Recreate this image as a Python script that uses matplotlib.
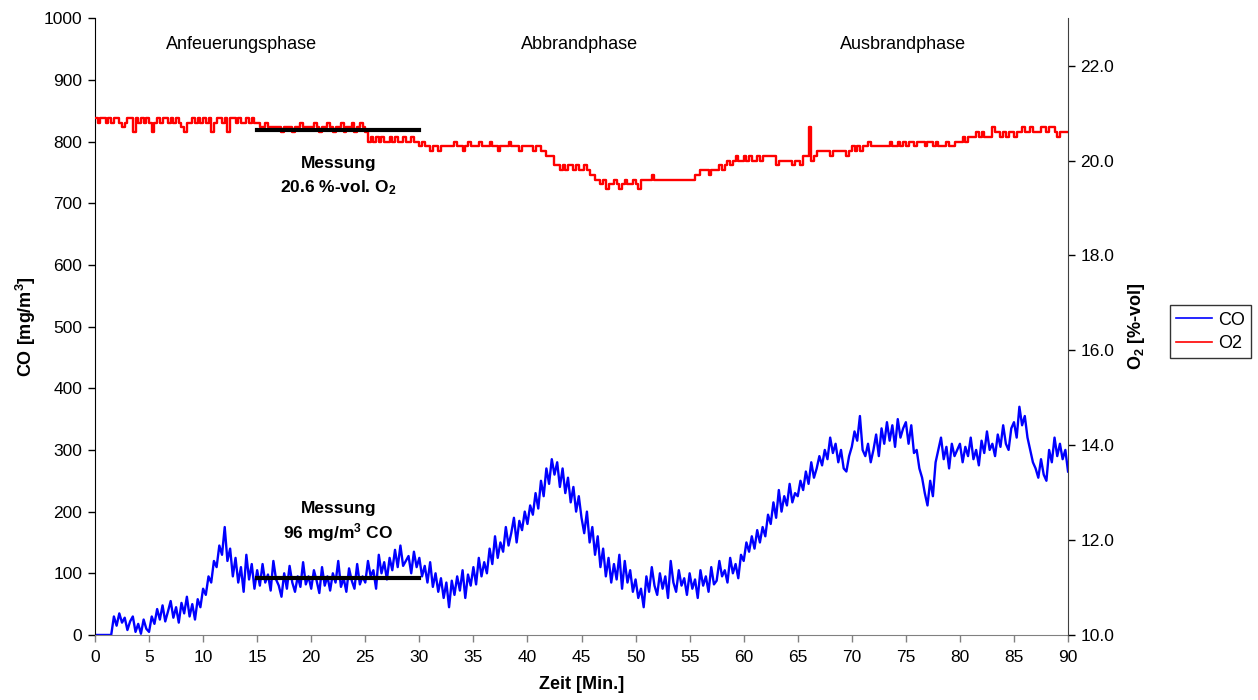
import numpy as np
import matplotlib
matplotlib.use("Agg")
from matplotlib import pyplot as plt

plt.rcParams['font.family'] = ['Liberation Sans', 'DejaVu Sans']
plt.rcParams['mathtext.fontset'] = 'custom'
plt.rcParams['mathtext.rm'] = 'Liberation Sans'
plt.rcParams['mathtext.bf'] = 'Liberation Sans:bold'

# time axis, one reading every 0.25 min
zeit = [i * 0.25 for i in range(361)]

# CO [mg/m3], rows of 5 minutes
co = (
    [0, 0, 0, 0, 0, 0, 0, 30, 15, 35, 20, 28, 8, 22, 30, 5, 18, 2, 25, 10] +
    [5, 30, 18, 42, 25, 48, 22, 38, 55, 28, 45, 20, 52, 35, 62, 30, 50, 25, 58, 45] +
    [75, 65, 95, 85, 120, 110, 145, 130, 175, 120, 140, 95, 125, 85, 110, 70, 130, 90, 115, 75] +
    [105, 80, 115, 85, 98, 72, 120, 90, 80, 62, 100, 75, 112, 85, 70, 95, 78, 118, 82, 95] +
    [75, 105, 88, 68, 110, 80, 95, 72, 100, 85, 120, 78, 92, 70, 108, 88, 75, 115, 82, 95] +
    [85, 120, 95, 105, 75, 130, 100, 118, 90, 125, 105, 138, 110, 145, 112, 120, 128, 100, 135, 110] +
    [125, 95, 112, 85, 118, 78, 100, 70, 92, 60, 85, 45, 88, 65, 95, 72, 105, 60, 98, 80] +
    [110, 82, 125, 95, 118, 100, 140, 115, 160, 125, 150, 135, 175, 145, 165, 190, 150, 185, 170, 200] +
    [180, 210, 195, 230, 205, 250, 225, 270, 245, 285, 260, 280, 240, 270, 230, 255, 215, 240, 200, 225] +
    [190, 165, 200, 150, 175, 130, 160, 110, 140, 95, 125, 85, 115, 90, 130, 75, 120, 85, 105, 70] +
    [90, 60, 75, 45, 95, 70, 110, 80, 65, 100, 75, 95, 60, 120, 85, 70, 105, 80, 92, 65] +
    [100, 75, 90, 60, 105, 80, 95, 70, 110, 82, 88, 120, 95, 105, 85, 125, 100, 115, 92, 130] +
    [120, 150, 135, 160, 140, 170, 150, 175, 160, 195, 180, 215, 190, 235, 200, 225, 210, 245, 215, 230] +
    [225, 250, 235, 265, 245, 280, 255, 270, 290, 275, 300, 285, 320, 295, 310, 280, 300, 270, 265, 290] +
    [305, 330, 315, 355, 300, 290, 310, 280, 300, 325, 290, 335, 310, 345, 315, 340, 305, 350, 320, 335] +
    [345, 310, 340, 295, 300, 270, 255, 230, 210, 250, 225, 280, 300, 320, 285, 305, 270, 310, 290, 300] +
    [310, 280, 305, 290, 320, 285, 300, 275, 315, 295, 330, 300, 310, 290, 325, 305, 340, 310, 300, 335] +
    [345, 320, 370, 340, 355, 320, 300, 280, 270, 255, 285, 260, 250, 300, 280, 320, 290, 310, 285, 300] +
    [265]
)

# O2 [%-vol]
o2 = (
    [20.9, 20.8, 20.9, 20.9, 20.8, 20.9, 20.8, 20.9, 20.9, 20.8, 20.7, 20.8, 20.9, 20.9, 20.6, 20.9, 20.8, 20.9, 20.8, 20.9] +
    [20.8, 20.6, 20.8, 20.9, 20.8, 20.9, 20.9, 20.8, 20.9, 20.8, 20.9, 20.8, 20.7, 20.6, 20.8, 20.8, 20.9, 20.8, 20.9, 20.8] +
    [20.9, 20.8, 20.9, 20.6, 20.8, 20.9, 20.9, 20.8, 20.9, 20.6, 20.9, 20.9, 20.8, 20.9, 20.8, 20.8, 20.9, 20.8, 20.9, 20.8] +
    [20.8, 20.7, 20.7, 20.8, 20.7, 20.7, 20.7, 20.7, 20.7, 20.6, 20.7, 20.7, 20.7, 20.6, 20.7, 20.7, 20.8, 20.7, 20.7, 20.7] +
    [20.7, 20.8, 20.7, 20.6, 20.7, 20.7, 20.8, 20.7, 20.6, 20.7, 20.7, 20.8, 20.6, 20.7, 20.7, 20.8, 20.6, 20.7, 20.8, 20.7] +
    [20.6, 20.4, 20.5, 20.4, 20.5, 20.4, 20.5, 20.4, 20.4, 20.5, 20.4, 20.5, 20.4, 20.4, 20.5, 20.4, 20.4, 20.5, 20.4, 20.4] +
    [20.3, 20.4, 20.3, 20.3, 20.2, 20.3, 20.3, 20.2, 20.3, 20.3, 20.3, 20.3, 20.3, 20.4, 20.3, 20.3, 20.2, 20.3, 20.4, 20.3] +
    [20.3, 20.3, 20.4, 20.3, 20.3, 20.3, 20.4, 20.3, 20.3, 20.2, 20.3, 20.3, 20.3, 20.4, 20.3, 20.3, 20.3, 20.2, 20.3, 20.3] +
    [20.3, 20.3, 20.2, 20.3, 20.3, 20.2, 20.2, 20.1, 20.1, 20.1, 19.9, 19.9, 19.8, 19.9, 19.8, 19.9, 19.9, 19.8, 19.9, 19.8] +
    [19.8, 19.9, 19.8, 19.7, 19.7, 19.6, 19.6, 19.5, 19.6, 19.4, 19.5, 19.5, 19.6, 19.5, 19.4, 19.5, 19.6, 19.5, 19.5, 19.6] +
    [19.5, 19.4, 19.6, 19.6, 19.6, 19.6, 19.7, 19.6, 19.6, 19.6, 19.6, 19.6, 19.6, 19.6, 19.6, 19.6, 19.6, 19.6, 19.6, 19.6] +
    [19.6, 19.6, 19.7, 19.7, 19.8, 19.8, 19.8, 19.7, 19.8, 19.8, 19.8, 19.9, 19.8, 19.9, 20.0, 19.9, 20.0, 20.1, 20.0, 20.0] +
    [20.1, 20.0, 20.1, 20.0, 20.0, 20.1, 20.0, 20.1, 20.1, 20.1, 20.1, 20.1, 19.9, 20.0, 20.0, 20.0, 20.0, 20.0, 19.9, 20.0] +
    [20.0, 19.9, 20.1, 20.1, 20.7, 20.0, 20.1, 20.2, 20.2, 20.2, 20.2, 20.2, 20.1, 20.2, 20.2, 20.2, 20.2, 20.2, 20.1, 20.2] +
    [20.3, 20.2, 20.3, 20.2, 20.3, 20.3, 20.4, 20.3, 20.3, 20.3, 20.3, 20.3, 20.3, 20.3, 20.4, 20.3, 20.3, 20.4, 20.3, 20.4] +
    [20.3, 20.4, 20.4, 20.3, 20.4, 20.4, 20.4, 20.3, 20.4, 20.4, 20.3, 20.4, 20.3, 20.3, 20.3, 20.4, 20.3, 20.3, 20.4, 20.4] +
    [20.4, 20.5, 20.4, 20.5, 20.5, 20.5, 20.6, 20.5, 20.6, 20.5, 20.5, 20.5, 20.7, 20.6, 20.6, 20.5, 20.6, 20.5, 20.6, 20.6] +
    [20.5, 20.6, 20.6, 20.7, 20.6, 20.6, 20.7, 20.6, 20.6, 20.6, 20.7, 20.7, 20.6, 20.7, 20.7, 20.6, 20.5, 20.6, 20.6, 20.6] +
    [20.6]
)

# measurement period and mean values
mess_zeit = [15, 30]
mess_co = 92
mess_o2 = 20.65

phasen = ["Anfeuerungsphase", "Abbrandphase", "Ausbrandphase"]
phasen_x = [13.6, 44.8, 74.7]

fig = plt.figure(figsize=(12.58, 7.0), dpi=100)
ax = fig.add_axes([0.0755, 0.0929, 0.7735, 0.8811])
ax2 = ax.twinx()

l_co, = ax.plot(zeit, co, color="#0000ff", lw=1.7, label="CO")
l_o2, = ax2.plot(zeit, o2, color="#ff0000", lw=1.7, drawstyle="steps-post", label="O2")

ax.plot(mess_zeit, [mess_co, mess_co], color="black", lw=3, zorder=5)
ax2.plot(mess_zeit, [mess_o2, mess_o2], color="black", lw=3, zorder=5)

ax.set_xlim(0, 90)
ax.set_ylim(0, 1000)
ax2.set_ylim(10, 23)
ax.set_xticks(range(0, 91, 5))
ax.set_yticks(range(0, 1001, 100))
ax2.set_yticks([10, 12, 14, 16, 18, 20, 22])
ax2.set_yticklabels(["%.1f" % v for v in [10, 12, 14, 16, 18, 20, 22]])

for a in (ax, ax2):
    a.spines["top"].set_visible(False)
    a.tick_params(labelsize=12.5, direction="out", length=5, width=1)
ax.spines["bottom"].set_color("#808080")
ax.spines["right"].set_visible(False)
ax2.spines["left"].set_visible(False)
ax2.spines["bottom"].set_visible(False)
ax2.spines["right"].set_color("#404040")
ax.tick_params(axis="x", colors="black", pad=6)
ax.xaxis.set_tick_params(color="#808080")
ax.tick_params(axis="y", pad=4)
ax2.tick_params(axis="y", pad=4)

ax.set_xlabel("Zeit [Min.]", fontsize=13, fontweight="bold", labelpad=8)
ax.set_ylabel("CO [mg/m$\\mathbf{^3}$]", fontsize=13, fontweight="bold", labelpad=4)
ax2.set_ylabel("O$\\mathbf{_2}$ [%-vol]", fontsize=13, fontweight="bold", labelpad=8)

for name, x in zip(phasen, phasen_x):
    ax.text(x, 958, name, ha="center", va="center", fontsize=13)

ax.text(22.5, 205, "Messung", ha="center", va="center", fontsize=12.5, fontweight="bold")
ax.text(22.5, 166, "96 mg/m$\\mathbf{^3}$ CO", ha="center", va="center", fontsize=12.5, fontweight="bold")
ax.text(22.5, 764, "Messung", ha="center", va="center", fontsize=12.5, fontweight="bold")
ax.text(22.5, 726, "20.6 %-vol. O$\\mathbf{_2}$", ha="center", va="center", fontsize=12.5, fontweight="bold")

leg = fig.legend([l_co, l_o2], ["CO", "O2"], loc="upper left",
                 bbox_to_anchor=(0.930, 0.564), fontsize=13, frameon=True,
                 fancybox=False, edgecolor="black", handlelength=2.0,
                 borderpad=0.35, labelspacing=0.35, handletextpad=0.3,
                 borderaxespad=0)
leg.get_frame().set_linewidth(1)
for h in leg.get_lines():
    h.set_linewidth(1.2)

fig.savefig("out.png", dpi=100)
